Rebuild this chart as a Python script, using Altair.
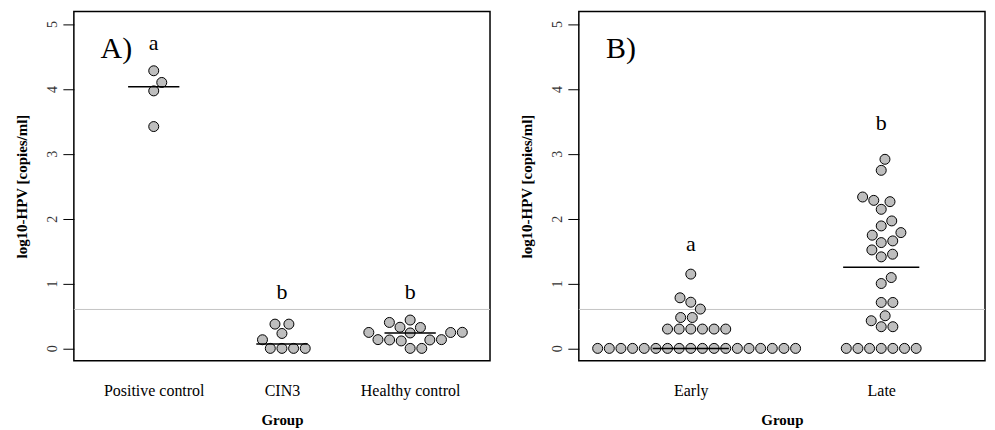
import altair as alt
import pandas as pd
import numpy as np

# ---------------- data ----------------
GROUPS_A = ["Positive control", "CIN3", "Healthy control"]
POSITIVE_CONTROL = [3.42, 3.97, 4.10, 4.28]
CIN3 = [0, 0, 0, 0, 0.133, 0.23, 0.374, 0.374]
HEALTHY_CONTROL = [0, 0, 0.115, 0.13, 0.13, 0.135, 0.135, 0.238, 0.245, 0.246,
                   0.248, 0.322, 0.326, 0.40, 0.437]
LETTERS_A = ["a", "b", "b"]
LETTER_Y_A = [4.605, 0.76, 0.76]

GROUPS_B = ["Early", "Late"]
EARLY = [0, 0, 0, 0, 0, 0, 0, 0, 0, 0, 0, 0, 0, 0, 0, 0, 0, 0,
         0.298, 0.298, 0.298, 0.298, 0.298, 0.298,
         0.476, 0.476, 0.606, 0.712, 0.78, 1.145]
LATE = [0, 0, 0, 0, 0, 0, 0, 0.334, 0.334, 0.426, 0.503, 0.708, 0.708, 1.0, 1.092,
        1.411, 1.452, 1.518, 1.631, 1.657, 1.745, 1.785, 1.888, 1.965, 2.144,
        2.262, 2.282, 2.334, 2.745, 2.915]
LETTERS_B = ["a", "b"]
LETTER_Y_B = [1.503, 3.365]

THRESHOLD = 0.6
Y_TICKS = [0, 1, 2, 3, 4, 5]
Y_TITLE = "log10-HPV [copies/ml]"
X_TITLE = "Group"

# ---------------- layout / style ----------------
FONT = "Liberation Serif"
YDOM = [-0.19, 5.195]
HEIGHT = 350
DOT = 0.1795          # dot diameter in log10 units (beeswarm spacing)
HALF_LINE = 0.2       # half length of the median bar (category units)


def swarm(values, d):
    """beeswarm 'swarm' placement, priority ascending (offsets in dot units)."""
    xs = [v / d for v in values]
    order = sorted(range(len(values)), key=lambda i: values[i])
    placed = []
    off = [0.0] * len(values)
    for i in order:
        xi = xs[i]
        pre = [(px, py) for px, py in placed if abs(xi - px) < 1]
        y = 0.0
        if pre:
            cands = [0.0]
            cands += [py + np.sqrt(1 - (xi - px) ** 2) for px, py in pre]
            cands += [py - np.sqrt(1 - (xi - px) ** 2) for px, py in pre]
            best = None
            for c in cands:
                bad = any((xi - px) ** 2 + (c - py) ** 2 < 0.999 for px, py in pre)
                if not bad and (best is None or abs(c) < abs(best)):
                    best = c
            y = best
        placed.append((xi, y))
        off[i] = y
    return off


def make_panel(groups, series, letters, letter_y, tag, tag_x, tag_y, xdom, width):
    ypx = HEIGHT / (YDOM[1] - YDOM[0])
    xpx = width / (xdom[1] - xdom[0])
    gsize = DOT * ypx / xpx
    pts, med = [], []
    for gi, vals in enumerate(series, start=1):
        offs = swarm(vals, DOT)
        for v, o in zip(vals, offs):
            pts.append({"x": gi + o * gsize, "v": v})
        m = float(np.median(vals))
        med.append({"x": gi - HALF_LINE, "x2": gi + HALF_LINE, "v": m})
    pts = pd.DataFrame(pts)
    med = pd.DataFrame(med)
    let = pd.DataFrame({"x": list(range(1, len(groups) + 1)), "v": letter_y, "t": letters})
    tg = pd.DataFrame({"x": [tag_x], "v": [tag_y], "t": [tag]})
    thr = pd.DataFrame({"v": [THRESHOLD]})

    expr = " : ".join(f"datum.value == {i} ? '{g}'" for i, g in enumerate(groups, 1)) + " : ''"
    xscale = alt.Scale(domain=xdom, nice=False, zero=False)
    yscale = alt.Scale(domain=YDOM, nice=False, zero=False)
    xaxis = alt.Axis(values=list(range(1, len(groups) + 1)), labelExpr=expr, title=X_TITLE,
                     ticks=False, domain=False, grid=False, labelPadding=22,
                     labelBaseline="top", labelFontSize=16, labelFont=FONT,
                     labelColor="black", labelFlush=False, labelOverlap=False,
                     titleFont=FONT, titleFontSize=15, titleFontWeight="bold",
                     titleColor="black", titlePadding=14)
    yaxis = alt.Axis(values=Y_TICKS, format="d", title=Y_TITLE, tickSize=11, tickColor="black",
                     tickWidth=1, domain=False, grid=False, labelAngle=270,
                     labelAlign="center", labelBaseline="bottom", labelPadding=3,
                     labelFont=FONT, labelFontSize=14, labelColor="#333",
                     titleFont=FONT, titleFontSize=15, titleFontWeight="bold",
                     titleColor="black", titlePadding=16)

    def X(f):
        return alt.X(f, type="quantitative", scale=xscale, axis=xaxis)

    def Y(f):
        return alt.Y(f, type="quantitative", scale=yscale, axis=yaxis)

    thr_layer = alt.Chart(thr).mark_rule(color="#c4c4c4", strokeWidth=1).encode(y=Y("v"))
    pt_layer = alt.Chart(pts).mark_circle(size=100, fill="#bebebe", stroke="black",
                                          strokeWidth=1, opacity=1).encode(x=X("x"), y=Y("v"))
    med_layer = alt.Chart(med).mark_rule(color="black", strokeWidth=1.5).encode(
        x=X("x"), x2="x2", y=Y("v"))
    let_layer = alt.Chart(let).mark_text(font=FONT, fontSize=22, align="center",
                                         baseline="alphabetic", color="black").encode(
        x=X("x"), y=Y("v"), text="t")
    tag_layer = alt.Chart(tg).mark_text(font=FONT, fontSize=30, align="left",
                                        baseline="alphabetic", color="black").encode(
        x=X("x"), y=Y("v"), text="t")
    return alt.layer(thr_layer, pt_layer, med_layer, let_layer, tag_layer).properties(
        width=width, height=HEIGHT)


left = make_panel(GROUPS_A, [POSITIVE_CONTROL, CIN3, HEALTHY_CONTROL], LETTERS_A, LETTER_Y_A,
                  "A)", 0.585, 4.477, [0.377, 3.623], 417)
right = make_panel(GROUPS_B, [EARLY, LATE], LETTERS_B, LETTER_Y_B,
                   "B)", 0.555, 4.477, [0.412, 2.545], 407)

chart = alt.hconcat(left, right, spacing=27).properties(
    padding={"left": 6, "top": 2, "right": 0, "bottom": 0},
    background="white"
).configure_view(stroke="black", strokeWidth=1.5)

chart.save("out.html", embed_options={"renderer": "svg", "actions": False})
